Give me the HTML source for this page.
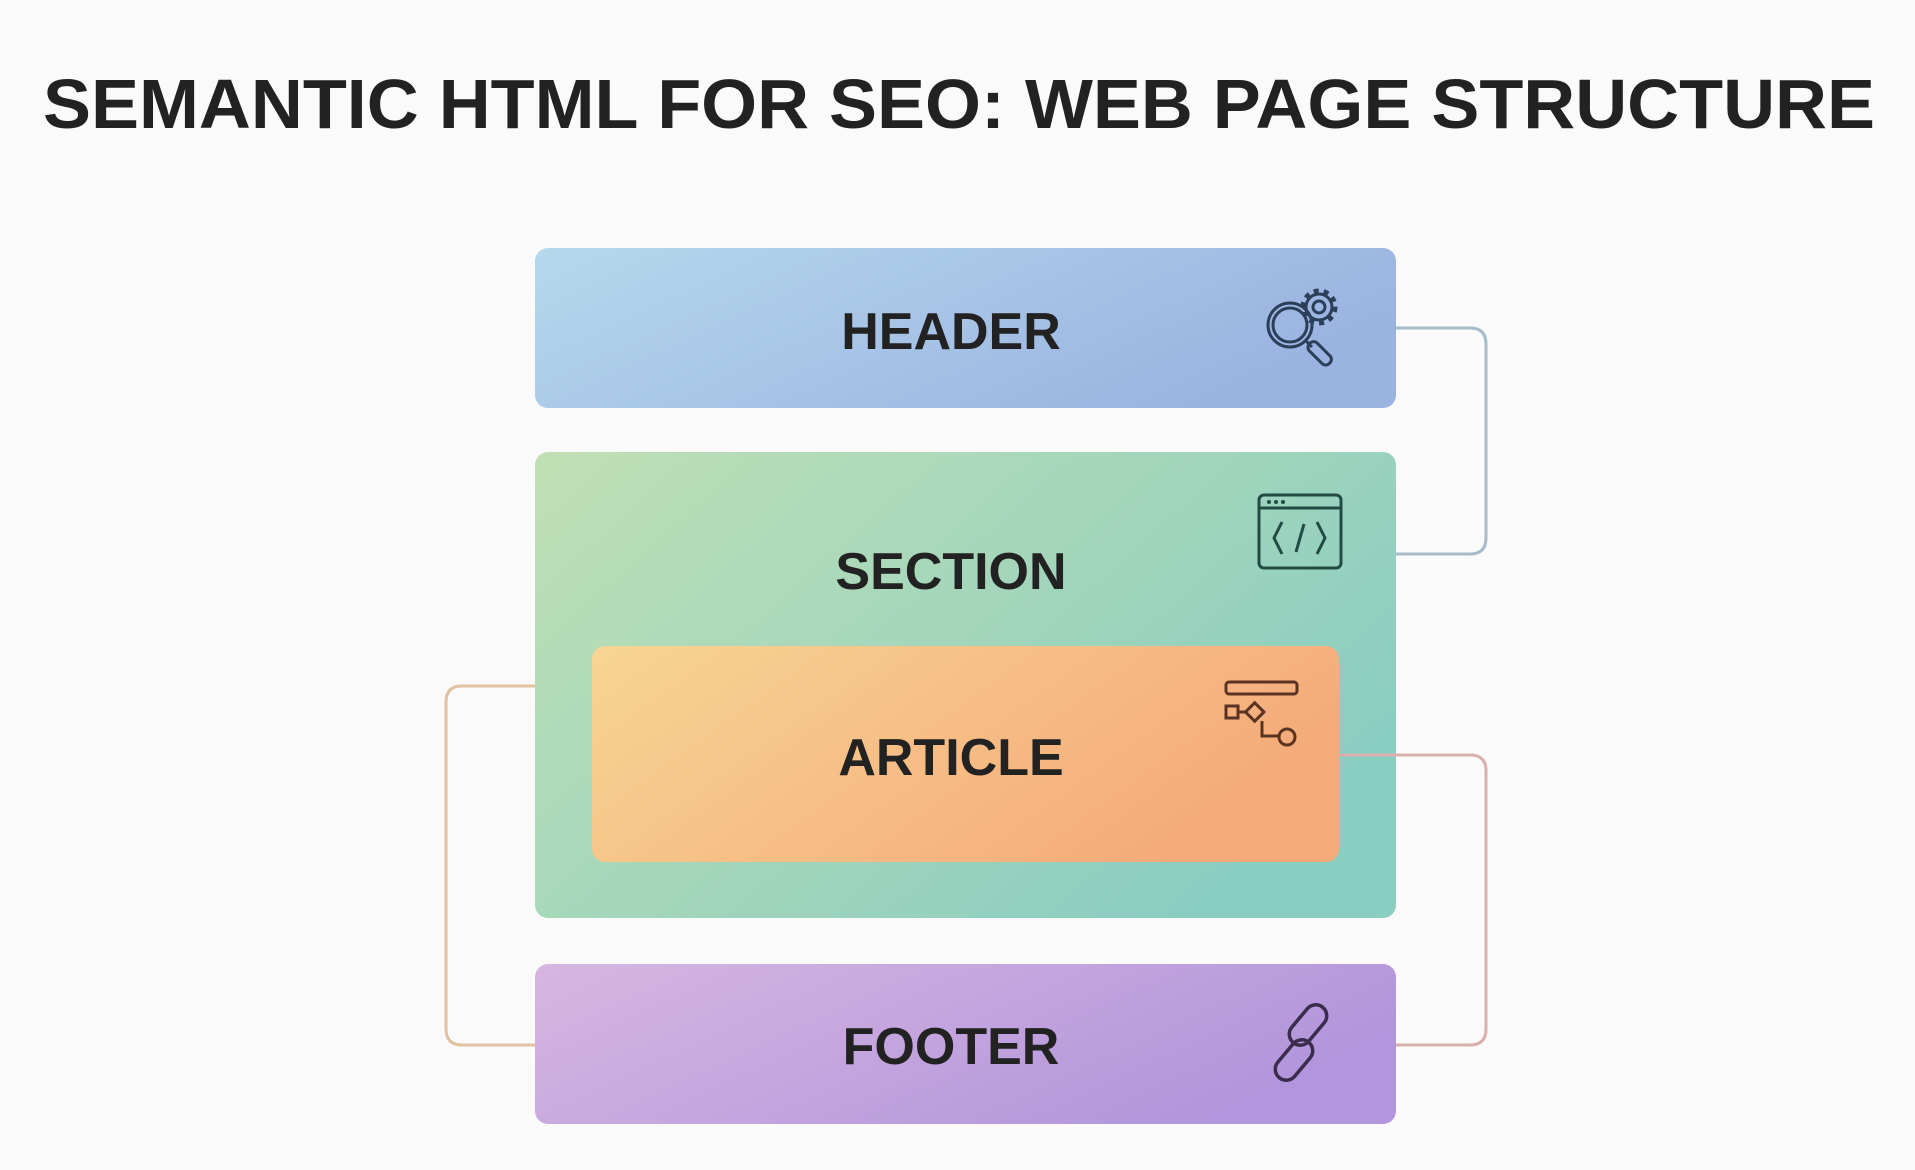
<!DOCTYPE html>
<html><head><meta charset="utf-8"><style>
html,body{margin:0;padding:0;background:#fafafa;}
svg{display:block;}
text{font-family:"Liberation Sans",sans-serif;font-weight:bold;fill:#222;}
</style></head><body>
<svg width="1915" height="1170" viewBox="0 0 1915 1170" xmlns="http://www.w3.org/2000/svg">
<defs>
<linearGradient id="gh" x1="0" y1="0" x2="1" y2="0.4"><stop offset="0" stop-color="#b6d8ec"/><stop offset="1" stop-color="#9bb3e1"/></linearGradient>
<linearGradient id="gs" x1="0" y1="0" x2="1" y2="0.6"><stop offset="0" stop-color="#c0e0b4"/><stop offset="1" stop-color="#8acdc1"/></linearGradient>
<linearGradient id="ga" x1="0" y1="0" x2="1" y2="0.4"><stop offset="0" stop-color="#f7d592"/><stop offset="1" stop-color="#f5aa7a"/></linearGradient>
<linearGradient id="gf" x1="0" y1="0" x2="1" y2="0.4"><stop offset="0" stop-color="#d8b6e0"/><stop offset="1" stop-color="#b295dc"/></linearGradient>
</defs>
<rect width="1915" height="1170" fill="#fafafa"/>
<text x="43" y="128" font-size="70" textLength="1832" lengthAdjust="spacingAndGlyphs">SEMANTIC HTML FOR SEO: WEB PAGE STRUCTURE</text>

<path d="M1396 328 H1470 Q1486 328 1486 344 V538 Q1486 554 1470 554 H1396" fill="none" stroke="#a6bccb" stroke-width="3"/>
<path d="M535 686 H462 Q446 686 446 702 V1029 Q446 1045 462 1045 H535" fill="none" stroke="#e0c2a0" stroke-width="3"/>

<rect x="535" y="248" width="861" height="160" rx="13" fill="url(#gh)"/>
<rect x="535" y="452" width="861" height="466" rx="13" fill="url(#gs)"/>
<rect x="592" y="646" width="747" height="216" rx="13" fill="url(#ga)"/>
<rect x="535" y="964" width="861" height="160" rx="13" fill="url(#gf)"/>

<path d="M1339 755 H1470 Q1486 755 1486 771 V1029 Q1486 1045 1470 1045 H1396" fill="none" stroke="#d9b0ac" stroke-width="3"/>

<text x="951" y="349" font-size="52" text-anchor="middle">HEADER</text>
<text x="951" y="589" font-size="52" text-anchor="middle">SECTION</text>
<text x="951" y="775" font-size="52" text-anchor="middle">ARTICLE</text>
<text x="951" y="1064" font-size="52" text-anchor="middle">FOOTER</text>

<g fill="none" stroke="#2c3f58" stroke-width="3">
<circle cx="1290" cy="325" r="22"/><circle cx="1290" cy="325" r="17"/>
<line x1="1306" y1="341" x2="1312" y2="347"/>
<rect x="1306" y="348" width="28" height="11" rx="5" transform="rotate(45 1320 353)"/>
<circle cx="1319" cy="307" r="6"/>
<circle cx="1319" cy="307" r="13"/>
<circle cx="1319" cy="307" r="16" stroke-width="5" stroke-dasharray="5 5"/>
</g>
<g fill="none" stroke="#234b44" stroke-width="3">
<rect x="1259" y="495" width="82" height="73" rx="5"/>
<line x1="1259" y1="508" x2="1341" y2="508"/>
<polyline points="1282,522 1274,538 1282,554"/><polyline points="1317,522 1325,538 1317,554"/>
<line x1="1304" y1="524" x2="1296" y2="552"/>
</g>
<g fill="#234b44"><circle cx="1269" cy="502" r="2"/><circle cx="1276" cy="502" r="2"/><circle cx="1283" cy="502" r="2"/></g>
<g fill="none" stroke="#5a3422" stroke-width="3">
<rect x="1226" y="682" width="71" height="12" rx="3"/>
<rect x="1226" y="706" width="12" height="12"/>
<line x1="1238" y1="712" x2="1247" y2="712"/>
<rect x="1248" y="705" width="13" height="13" transform="rotate(45 1254 712)"/>
<polyline points="1262,721 1262,736 1279,736"/>
<circle cx="1287" cy="737" r="8"/>
</g>
<g fill="none" stroke="#3a2c4c" stroke-width="3.5">
<rect x="1297" y="1002" width="22" height="46" rx="11" transform="rotate(40 1308 1025)"/>
<rect x="1283" y="1037" width="22" height="46" rx="11" transform="rotate(40 1294 1060)"/>
</g>
</svg>
</body></html>
